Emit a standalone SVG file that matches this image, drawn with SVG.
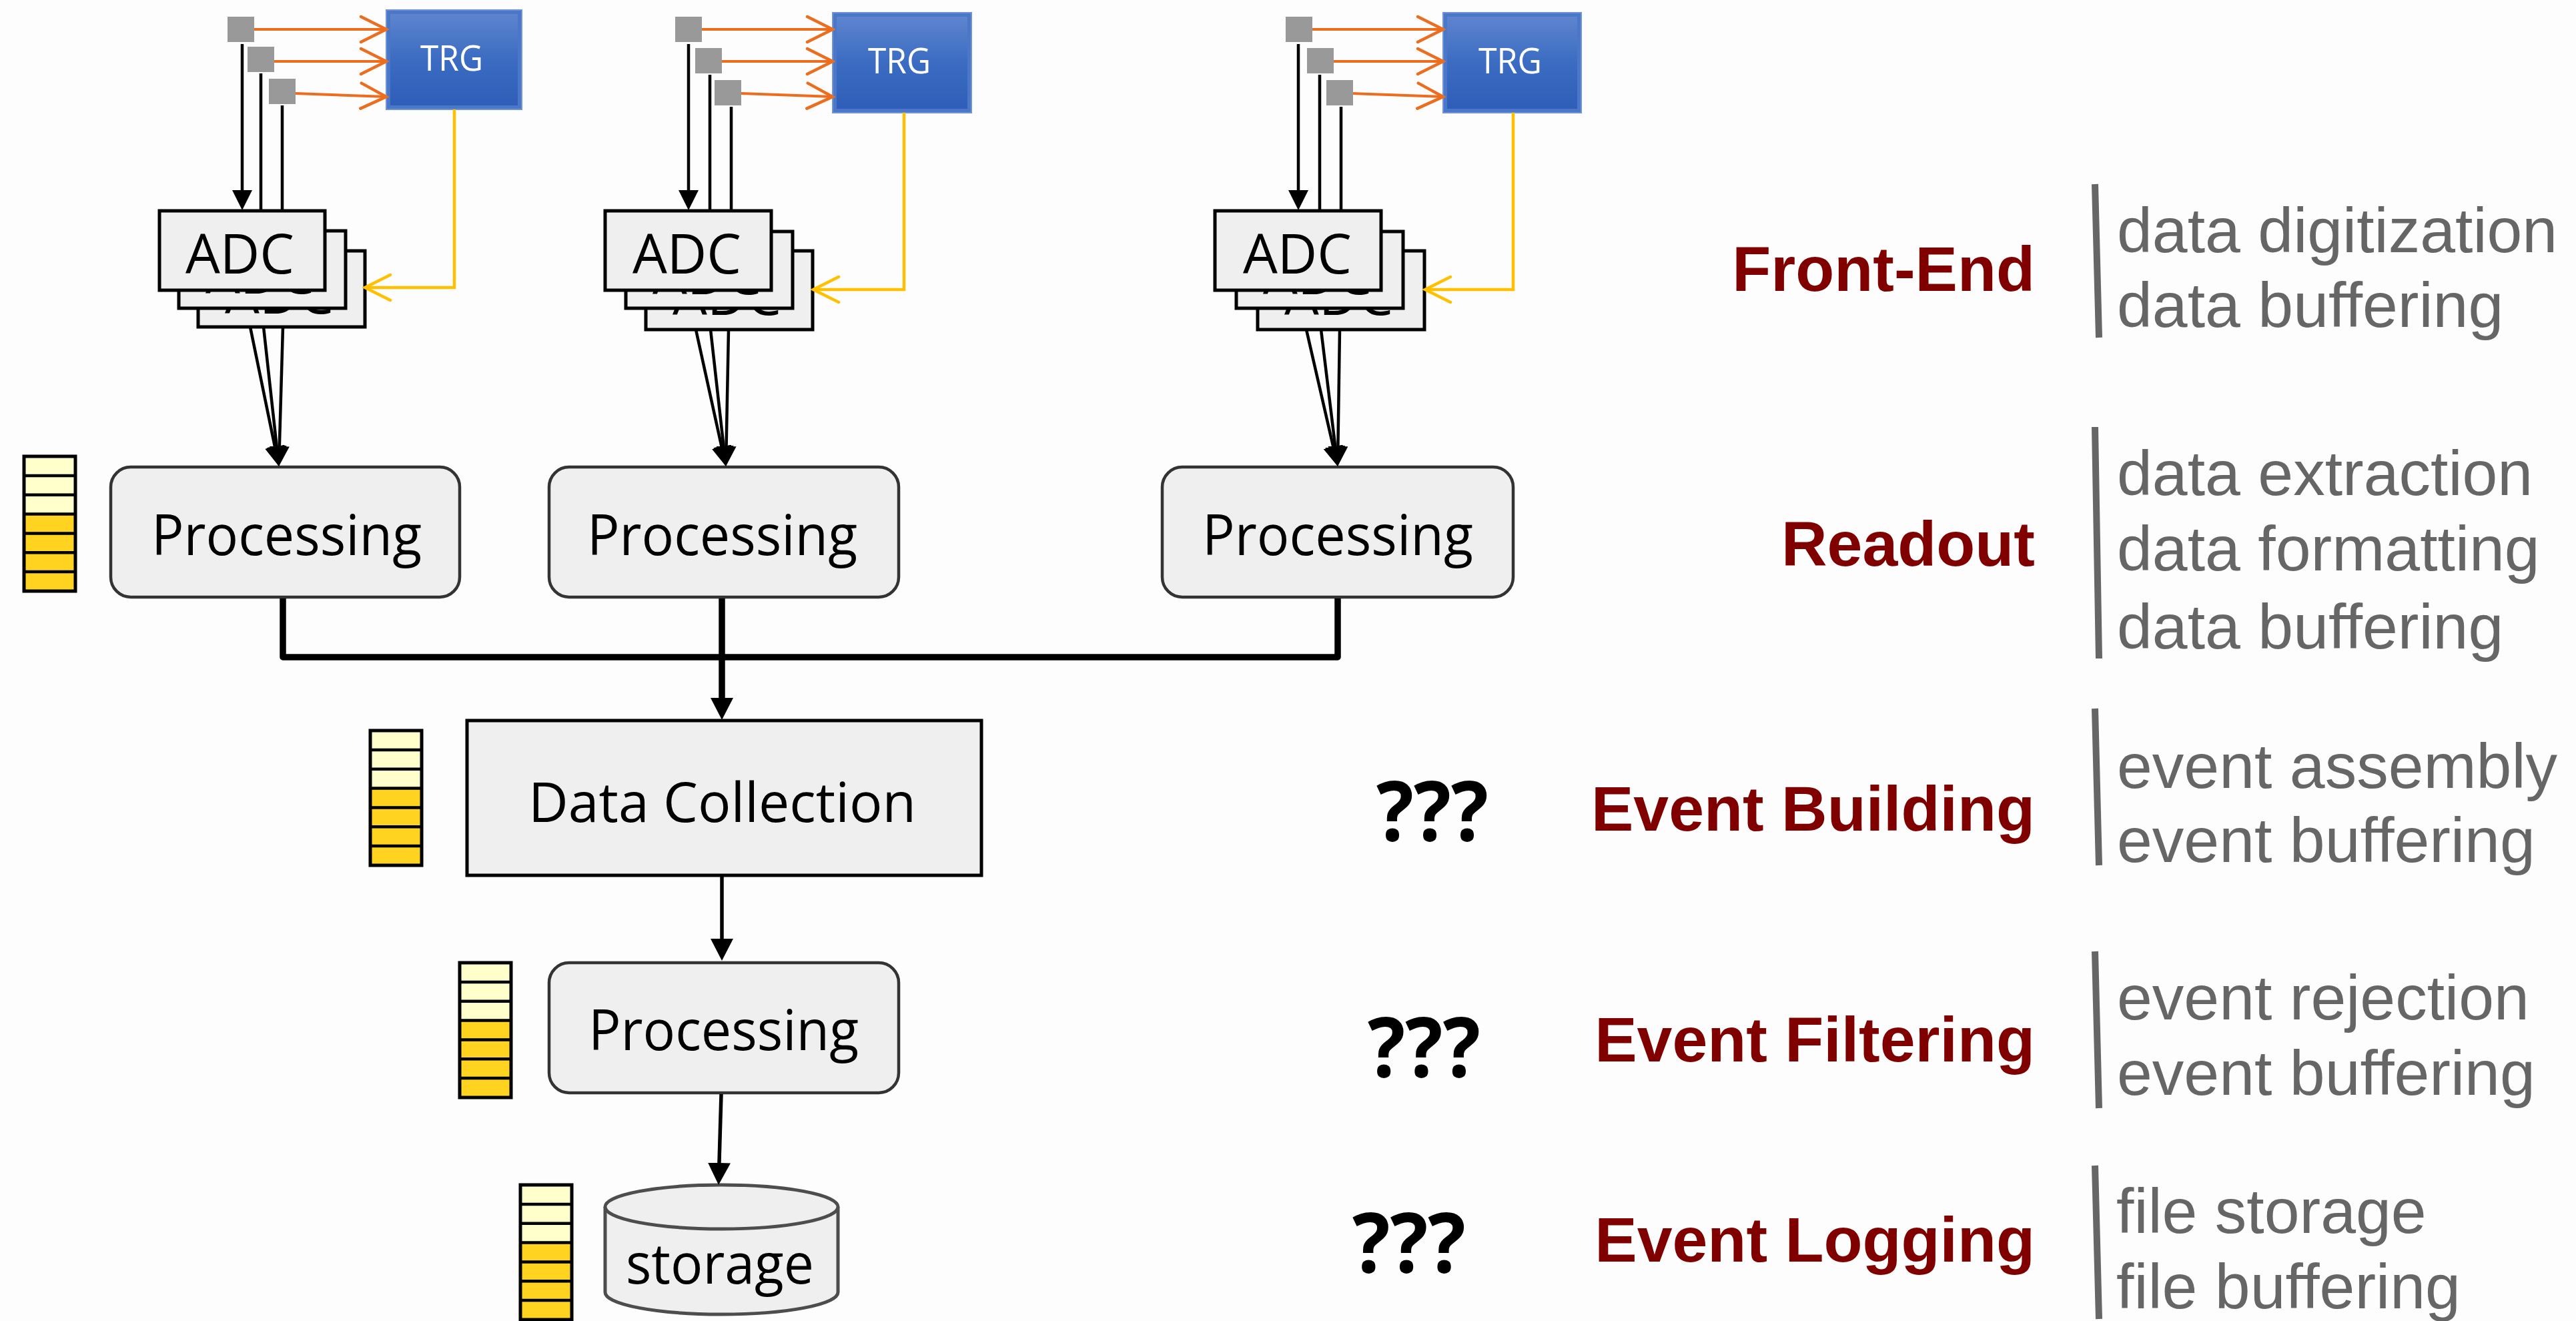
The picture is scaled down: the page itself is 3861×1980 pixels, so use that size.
<svg xmlns="http://www.w3.org/2000/svg" width="3861" height="1980" viewBox="0 0 3861 1980">
  <style>
    .sq { fill: #999999; }
    .adc { fill: #efefef; stroke: #000; stroke-width: 5; }
    .proc { fill: #efefef; stroke: #333; stroke-width: 4.5; }
    .lbl { font-family: "Open Sans", "Noto Sans", sans-serif; fill: #000; }
    .trgtxt { font-family: "Open Sans", "Noto Sans", sans-serif; fill: #fff; font-size: 53px; }
    .q { font-family: "Open Sans", "Noto Sans", sans-serif; font-weight: bold; font-size: 124px; fill: #000; }
    .stage { font-family: "Liberation Sans", Arial, sans-serif; font-weight: bold; font-size: 95px; fill: #800000; text-anchor: end; }
    .task { font-family: "Liberation Sans", Arial, sans-serif; font-size: 95px; fill: #666; }
    .bar { stroke: #666; stroke-width: 10; }
    .sig { fill: none; stroke: #000; stroke-width: 4.5; }
    .trig { fill: none; stroke: #ed6d1f; stroke-width: 4; }
    .gate { fill: none; stroke: #ffc000; stroke-width: 4.5; }
    .bus { fill: none; stroke: #000; stroke-width: 9.5; stroke-linejoin: round; }
    .flow { fill: none; stroke: #000; stroke-width: 5.5; }
  </style>
  <defs>
    <linearGradient id="trgFill" x1="0" y1="0" x2="0" y2="1">
      <stop offset="0" stop-color="#5e84ce"/>
      <stop offset="0.5" stop-color="#3b6cc2"/>
      <stop offset="1" stop-color="#2e5eb7"/>
    </linearGradient>
    <marker id="ah" viewBox="0 0 30 30" refX="8" refY="15" markerWidth="30" markerHeight="30" markerUnits="userSpaceOnUse" orient="auto">
      <path d="M0,0L30,15L0,30z" fill="#000"/>
    </marker>
    <marker id="ahL" viewBox="0 0 33 34" refX="9" refY="17" markerWidth="33" markerHeight="34" markerUnits="userSpaceOnUse" orient="auto">
      <path d="M0,0L33,17L0,34z" fill="#000"/>
    </marker>
    <marker id="chevO" viewBox="-42 -24 46 48" refX="0" refY="0" markerWidth="46" markerHeight="48" markerUnits="userSpaceOnUse" orient="auto">
      <path d="M-38,-19L0,0L-38,19" fill="none" stroke="#ed6d1f" stroke-width="4.5" stroke-linecap="round"/>
    </marker>
    <marker id="chevY" viewBox="-42 -24 46 48" refX="0" refY="0" markerWidth="46" markerHeight="48" markerUnits="userSpaceOnUse" orient="auto">
      <path d="M-38,-19L0,0L-38,19" fill="none" stroke="#ffc000" stroke-width="4.5" stroke-linecap="round"/>
    </marker>
    <!-- FIFO buffer: 3 free cells on top, 4 filled cells below -->
    <g id="buf">
      <rect x="0" y="0" width="77" height="86.6" fill="#ffffcc"/>
      <rect x="0" y="86.6" width="77" height="115.4" fill="#ffd320"/>
      <path d="M0,28.9H77M0,57.7H77M0,86.6H77M0,115.4H77M0,144.3H77M0,173.1H77" stroke="#000" stroke-width="4.5"/>
      <rect x="0" y="0" width="77" height="202" fill="none" stroke="#000" stroke-width="5"/>
    </g>
  </defs>

  <rect x="0" y="0" width="3861" height="1980" fill="#fdfdfd"/>

  <!-- ===== front-end column 1 ===== -->
  <g id="sensors-1">
    <rect class="sq" x="341" y="25" width="40" height="38"/>
    <rect class="sq" x="371" y="70" width="40" height="38"/>
    <rect class="sq" x="403" y="118" width="40" height="38"/>
  </g>
  <g id="trg-1">
    <rect x="579" y="15" width="203" height="149" fill="#4a77c8" stroke="#6f93d6" stroke-width="2"/>
    <rect x="585" y="21" width="191" height="137" fill="url(#trgFill)"/>
    <text class="trgtxt" x="630" y="106" textLength="94" lengthAdjust="spacingAndGlyphs">TRG</text>
  </g>
  <g id="adc-1">
    <rect class="adc" x="297" y="376" width="250" height="114"/>
    <text class="lbl" x="337" y="470" font-size="83" textLength="163" lengthAdjust="spacingAndGlyphs">ADC</text>
    <rect class="adc" x="268" y="346" width="250" height="116"/>
    <text class="lbl" x="308" y="440" font-size="83" textLength="163" lengthAdjust="spacingAndGlyphs">ADC</text>
    <rect class="adc" x="239" y="316" width="248" height="119"/>
    <text class="lbl" x="278" y="410" font-size="83" textLength="163" lengthAdjust="spacingAndGlyphs">ADC</text>
  </g>

  <!-- ===== front-end column 2 ===== -->
  <g id="sensors-2">
    <rect class="sq" x="1012" y="25" width="40" height="38"/>
    <rect class="sq" x="1042" y="72" width="40" height="38"/>
    <rect class="sq" x="1071" y="120" width="40" height="38"/>
  </g>
  <g id="trg-2">
    <rect x="1248" y="19" width="208" height="150" fill="#4a77c8" stroke="#6f93d6" stroke-width="2"/>
    <rect x="1254" y="25" width="196" height="138" fill="url(#trgFill)"/>
    <text class="trgtxt" x="1301" y="110" textLength="94" lengthAdjust="spacingAndGlyphs">TRG</text>
  </g>
  <g id="adc-2">
    <rect class="adc" x="968" y="376" width="250" height="118"/>
    <text class="lbl" x="1008" y="472" font-size="83" textLength="163" lengthAdjust="spacingAndGlyphs">ADC</text>
    <rect class="adc" x="938" y="347" width="250" height="115"/>
    <text class="lbl" x="978" y="441" font-size="83" textLength="163" lengthAdjust="spacingAndGlyphs">ADC</text>
    <rect class="adc" x="907" y="316" width="249" height="119"/>
    <text class="lbl" x="948" y="410" font-size="83" textLength="163" lengthAdjust="spacingAndGlyphs">ADC</text>
  </g>

  <!-- ===== front-end column 3 ===== -->
  <g id="sensors-3">
    <rect class="sq" x="1927" y="25" width="40" height="38"/>
    <rect class="sq" x="1959" y="72" width="40" height="38"/>
    <rect class="sq" x="1988" y="120" width="40" height="38"/>
  </g>
  <g id="trg-3">
    <rect x="2163" y="19" width="207" height="150" fill="#4a77c8" stroke="#6f93d6" stroke-width="2"/>
    <rect x="2169" y="25" width="195" height="138" fill="url(#trgFill)"/>
    <text class="trgtxt" x="2216" y="110" textLength="95" lengthAdjust="spacingAndGlyphs">TRG</text>
  </g>
  <g id="adc-3">
    <rect class="adc" x="1885" y="376" width="250" height="118"/>
    <text class="lbl" x="1925" y="472" font-size="83" textLength="163" lengthAdjust="spacingAndGlyphs">ADC</text>
    <rect class="adc" x="1853" y="347" width="250" height="115"/>
    <text class="lbl" x="1893" y="441" font-size="83" textLength="163" lengthAdjust="spacingAndGlyphs">ADC</text>
    <rect class="adc" x="1821" y="316" width="249" height="119"/>
    <text class="lbl" x="1863" y="410" font-size="83" textLength="163" lengthAdjust="spacingAndGlyphs">ADC</text>
  </g>

  <!-- ===== readout ===== -->
  <g id="proc-1">
    <rect class="proc" x="166" y="700" width="523" height="195" rx="30"/>
    <text class="lbl" x="227" y="832" font-size="84" textLength="405" lengthAdjust="spacingAndGlyphs">Processing</text>
  </g>
  <g id="proc-2">
    <rect class="proc" x="823" y="700" width="524" height="195" rx="30"/>
    <text class="lbl" x="880" y="832" font-size="84" textLength="405" lengthAdjust="spacingAndGlyphs">Processing</text>
  </g>
  <g id="proc-3">
    <rect class="proc" x="1742" y="700" width="526" height="195" rx="30"/>
    <text class="lbl" x="1802" y="832" font-size="84" textLength="406" lengthAdjust="spacingAndGlyphs">Processing</text>
  </g>
  <use id="buffer-readout" href="#buf" x="36" y="684"/>

  <!-- ===== event building ===== -->
  <g id="data-collection">
    <rect x="700" y="1080" width="771" height="232" fill="#efefef" stroke="#000" stroke-width="5"/>
    <text class="lbl" x="792" y="1232" font-size="82" textLength="581" lengthAdjust="spacingAndGlyphs">Data Collection</text>
  </g>
  <use id="buffer-building" href="#buf" x="555" y="1095"/>

  <!-- ===== event filtering ===== -->
  <g id="proc-filter">
    <rect class="proc" x="823" y="1443" width="524" height="195" rx="30"/>
    <text class="lbl" x="882" y="1574" font-size="84" textLength="405" lengthAdjust="spacingAndGlyphs">Processing</text>
  </g>
  <use id="buffer-filter" href="#buf" x="689" y="1443"/>

  <!-- ===== event logging ===== -->
  <g id="storage">
    <path d="M907,1809V1937A174.5,33 0 0 0 1256,1937V1809" fill="#efefef" stroke="#4d4d4d" stroke-width="5"/>
    <ellipse cx="1081.5" cy="1809" rx="174.5" ry="33" fill="#efefef" stroke="#4d4d4d" stroke-width="5"/>
    <text class="lbl" x="938" y="1924" font-size="84" textLength="282" lengthAdjust="spacingAndGlyphs">storage</text>
  </g>
  <use id="buffer-logging" href="#buf" x="780" y="1776"/>

  <!-- ===== connectors ===== -->
  <g id="connectors">
    <!-- sensor -> trigger -->
    <path class="trig" d="M381,44H579" marker-end="url(#chevO)"/>
    <path class="trig" d="M411,92H579" marker-end="url(#chevO)"/>
    <path class="trig" d="M443,140L579,145" marker-end="url(#chevO)"/>
    <path class="trig" d="M1052,44H1248" marker-end="url(#chevO)"/>
    <path class="trig" d="M1082,92H1248" marker-end="url(#chevO)"/>
    <path class="trig" d="M1111,140L1248,145" marker-end="url(#chevO)"/>
    <path class="trig" d="M1967,44H2163" marker-end="url(#chevO)"/>
    <path class="trig" d="M1999,92H2163" marker-end="url(#chevO)"/>
    <path class="trig" d="M2028,140L2163,145" marker-end="url(#chevO)"/>

    <!-- sensor -> ADC -->
    <path class="sig" d="M363,66V293" marker-end="url(#ah)"/>
    <path class="sig" d="M391,110V316"/>
    <path class="sig" d="M423,158V316"/>
    <path class="sig" d="M1032,66V293" marker-end="url(#ah)"/>
    <path class="sig" d="M1064,112V316"/>
    <path class="sig" d="M1096,160V316"/>
    <path class="sig" d="M1946,66V293" marker-end="url(#ah)"/>
    <path class="sig" d="M1978,112V316"/>
    <path class="sig" d="M2010,160V316"/>

    <!-- trigger -> ADC -->
    <path class="gate" d="M681,164V431H547" marker-end="url(#chevY)"/>
    <path class="gate" d="M1355,169V434H1219" marker-end="url(#chevY)"/>
    <path class="gate" d="M2268,169V434H2136" marker-end="url(#chevY)"/>

    <!-- ADC -> readout processing -->
    <path class="sig" d="M375,490L413.6,677.5" marker-end="url(#ah)"/>
    <path class="sig" d="M395,490L415.6,677.1" marker-end="url(#ah)"/>
    <path class="sig" d="M424,490L418.6,677" marker-end="url(#ah)"/>
    <path class="sig" d="M1043,494L1083.3,677.5" marker-end="url(#ah)"/>
    <path class="sig" d="M1065,494L1085.5,677.1" marker-end="url(#ah)"/>
    <path class="sig" d="M1092,494L1088.4,677" marker-end="url(#ah)"/>
    <path class="sig" d="M1958,494L2000.1,677.6" marker-end="url(#ah)"/>
    <path class="sig" d="M1980,494L2002.3,677.2" marker-end="url(#ah)"/>
    <path class="sig" d="M2008,494L2005.3,677" marker-end="url(#ah)"/>

    <!-- readout bus -> data collection -->
    <path class="bus" d="M424,897V985H2005V897"/>
    <path class="bus" d="M1082,897V985"/>
    <path class="bus" d="M1082,985V1055" marker-end="url(#ahL)"/>

    <!-- data collection -> filter -> storage -->
    <path class="flow" d="M1082,1314V1416" marker-end="url(#ahL)"/>
    <path class="flow" d="M1081,1640L1077.7,1752" marker-end="url(#ahL)"/>
  </g>

  <!-- ===== open questions ===== -->
  <g id="questions">
    <text class="q" x="2063" y="1260" textLength="168" lengthAdjust="spacingAndGlyphs">???</text>
    <text class="q" x="2050" y="1614" textLength="169" lengthAdjust="spacingAndGlyphs">???</text>
    <text class="q" x="2027" y="1907" textLength="170" lengthAdjust="spacingAndGlyphs">???</text>
  </g>

  <!-- ===== stage legend ===== -->
  <g id="stage-frontend">
    <text class="stage" x="3050" y="436">Front-End</text>
    <line class="bar" x1="3140" y1="276" x2="3146" y2="506"/>
    <text class="task" x="3173" y="378">data digitization</text>
    <text class="task" x="3173" y="490">data buffering</text>
  </g>
  <g id="stage-readout">
    <text class="stage" x="3050" y="848">Readout</text>
    <line class="bar" x1="3140" y1="640" x2="3146" y2="987"/>
    <text class="task" x="3173" y="742">data extraction</text>
    <text class="task" x="3173" y="855">data formatting</text>
    <text class="task" x="3173" y="972">data buffering</text>
  </g>
  <g id="stage-building">
    <text class="stage" x="3050" y="1245">Event Building</text>
    <line class="bar" x1="3140" y1="1062" x2="3146" y2="1297"/>
    <text class="task" x="3173" y="1181">event assembly</text>
    <text class="task" x="3173" y="1292">event buffering</text>
  </g>
  <g id="stage-filtering">
    <text class="stage" x="3050" y="1591">Event Filtering</text>
    <line class="bar" x1="3140" y1="1426" x2="3146" y2="1661"/>
    <text class="task" x="3173" y="1528">event rejection</text>
    <text class="task" x="3173" y="1641">event buffering</text>
  </g>
  <g id="stage-logging">
    <text class="stage" x="3050" y="1891">Event Logging</text>
    <line class="bar" x1="3140" y1="1747" x2="3146" y2="1977"/>
    <text class="task" x="3172" y="1848">file storage</text>
    <text class="task" x="3172" y="1961">file buffering</text>
  </g>
</svg>
